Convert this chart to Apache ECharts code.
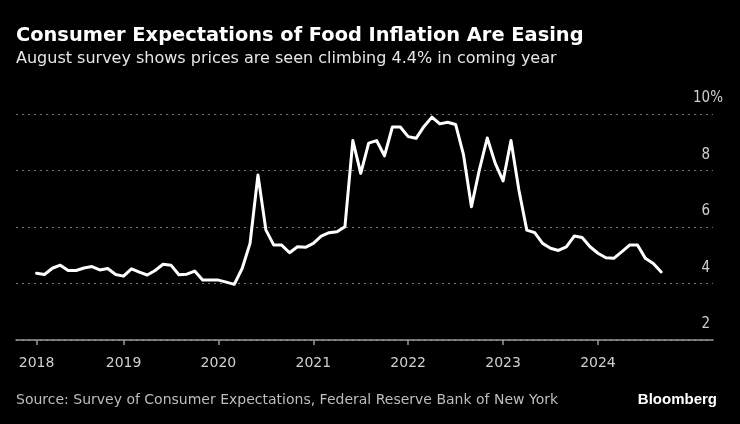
<!DOCTYPE html>
<html>
<head>
<meta charset="utf-8">
<script src="https://cdn.jsdelivr.net/npm/echarts@6/dist/echarts.min.js"></script>
<style>
html,body{margin:0;padding:0;background:#000;}
#chart{width:740px;height:424px;}
</style>
</head>
<body>
<div id="chart"></div>
<script>
// Monthly survey months (Jan 2018 .. Aug 2024), plotted at month end
const startYear = 2018;
const months = [];
for (let y = 2018; y <= 2024; y++) {
  for (let m = 1; m <= 12; m++) {
    if (y === 2024 && m > 8) break;
    months.push(y + '-' + String(m).padStart(2, '0'));
  }
}
// Median one-year-ahead expected food price change, %
const foodExpect = [
  4.36, 4.32, 4.54, 4.65, 4.46, 4.46, 4.55, 4.60, 4.48, 4.53, 4.32, 4.26,
  4.52, 4.40, 4.30, 4.46, 4.68, 4.65, 4.31, 4.33, 4.44, 4.12, 4.12, 4.12,
  4.05, 3.97, 4.53, 5.42, 7.84, 5.90, 5.36, 5.36, 5.09, 5.30, 5.28, 5.42,
  5.68, 5.80, 5.83, 6.01, 9.06, 7.90, 8.97, 9.06, 8.52, 9.54, 9.54, 9.20,
  9.14, 9.56, 9.89, 9.65, 9.71, 9.63, 8.55, 6.72, 8.02, 9.15, 8.26, 7.63,
  9.06, 7.31, 5.89, 5.80, 5.42, 5.25, 5.17, 5.30, 5.68, 5.63, 5.30, 5.07,
  4.91, 4.89, 5.12, 5.36, 5.36, 4.89, 4.71, 4.41
];
const yearLabels = ['2018', '2019', '2020', '2021', '2022', '2023', '2024'];
const yTicks = [2, 4, 6, 8, 10];

const titleText = 'Consumer Expectations of Food Inflation Are Easing';
const subtitleText = 'August survey shows prices are seen climbing 4.4% in coming year';
const sourceText = 'Source: Survey of Consumer Expectations, Federal Reserve Bank of New York';

// month-end position: months elapsed since Jan 1 of start year
function monthPos(s) {
  const [y, m] = s.split('-').map(Number);
  return (y - startYear) * 12 + m;
}
const seriesData = months.map((s, i) => [monthPos(s), foodExpect[i]]);
const yearTickPos = yearLabels.map((y, i) => i === 0 ? monthPos(months[0]) : (Number(y) - startYear) * 12);

const chart = echarts.init(document.getElementById('chart'), null, {renderer: 'canvas'});
chart.setOption({
  backgroundColor: '#000',
  animation: false,
  title: [
    {text: titleText, left: 16, top: 26, padding: 0,
     textStyle: {color: '#fff', fontFamily: 'DejaVu Sans', fontWeight: 'bold', fontSize: 19.4}},
    {text: subtitleText, left: 16, top: 51, padding: 0,
     textStyle: {color: '#e6e6e6', fontFamily: 'DejaVu Sans', fontWeight: 'normal', fontSize: 16}},
    {text: sourceText, left: 16, top: 393, padding: 0,
     textStyle: {color: '#bdbdbd', fontFamily: 'DejaVu Sans', fontWeight: 'normal', fontSize: 14}},
    {text: 'Bloomberg', right: 23, top: 392, padding: 0,
     textStyle: {color: '#fff', fontFamily: 'Liberation Sans', fontWeight: 'bold', fontSize: 15}}
  ],
  grid: {left: 16, right: 27, top: 114, bottom: 84, containLabel: false},
  xAxis: {
    type: 'value', min: -1.6, max: 86.55,
    axisLine: {show: true, lineStyle: {color: '#9a9a9a', width: 1.5}},
    axisTick: {show: true, length: 5, lineStyle: {color: '#9a9a9a', width: 1.5}, customValues: yearTickPos},
    axisLabel: {
      customValues: yearTickPos,
      color: '#cfcfcf', fontFamily: 'DejaVu Sans', fontSize: 14, margin: 16,
      formatter: function (v) {
        const i = yearTickPos.indexOf(v);
        return i >= 0 ? yearLabels[i] : '';
      }
    },
    splitLine: {show: false}
  },
  yAxis: {
    type: 'value', min: 2, max: 10, interval: 2, position: 'right',
    axisLine: {show: false}, axisTick: {show: false},
    axisLabel: {
      inside: true, margin: -10, color: '#cfcfcf', fontFamily: 'DejaVu Sans Condensed', fontSize: 15,
      verticalAlign: 'bottom', padding: [0, 0, 8, 0],
      formatter: function (v) { return v === yTicks[yTicks.length - 1] ? v + '%' : v + '{h|%}'; },
      rich: {h: {color: 'rgba(0,0,0,0)', fontFamily: 'DejaVu Sans Condensed', fontSize: 15}}
    },
    splitLine: {show: true, lineStyle: {color: '#777', width: 1, type: [2, 4]}}
  },
  series: [{
    type: 'line', data: seriesData, showSymbol: false,
    lineStyle: {color: '#fff', width: 3, join: 'round', cap: 'round'}
  }]
});
</script>
</body>
</html>
